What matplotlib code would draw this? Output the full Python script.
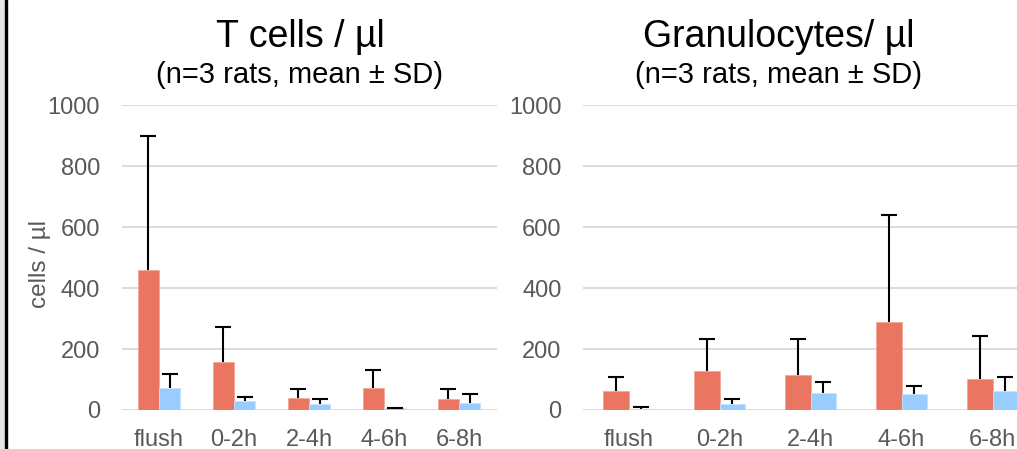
import matplotlib
matplotlib.use("Agg")
import matplotlib.pyplot as plt
import numpy as np
from matplotlib.patches import Rectangle

plt.rcParams["font.family"] = ["Liberation Sans", "DejaVu Sans"]

CATS = ["flush", "0-2h", "2-4h", "4-6h", "6-8h"]

# T cells / µl
T_RED = [460, 156, 40, 72, 35]
T_RED_SD = [440, 117, 28, 58, 33]
T_BLUE = [71, 30, 19, 5, 22]
T_BLUE_SD = [47, 14, 17, 3, 30]

# Granulocytes / µl
G_RED = [63, 129, 115, 290, 103]
G_RED_SD = [45, 104, 118, 349, 140]
G_BLUE = [3, 19, 55, 52, 61]
G_BLUE_SD = [6, 16, 38, 27, 46]

RED, BLUE = "#EA7560", "#99CCFF"
GRID, TICK = "#D9D9D9", "#595959"
W, H = 1017, 449


def upper_err(ax, x, y, sd):
    _, caps, _ = ax.errorbar(x, y, yerr=[np.zeros(len(y)), sd], fmt="none",
                             ecolor="black", elinewidth=1.5, capsize=5.5,
                             capthick=1.5, zorder=4)
    caps[0].set_visible(False)   # only the upper cap


def panel(ax, red, red_sd, blue, blue_sd):
    x = np.arange(len(CATS))
    bw = 0.285
    ax.bar(x - bw / 2, red, bw, color=RED, edgecolor="#F4A898", lw=0.6, zorder=3)
    ax.bar(x + bw / 2, blue, bw, color=BLUE, edgecolor="#C4E2FF", lw=0.6, zorder=3)
    upper_err(ax, x - bw / 2, red, red_sd)
    upper_err(ax, x + bw / 2, blue, blue_sd)
    ax.set_xlim(-0.5, len(CATS) - 0.5)
    ax.set_ylim(0, 1000)
    ax.set_yticks(range(0, 1001, 200))
    ax.set_xticks(x)
    ax.set_xticklabels(CATS)
    ax.yaxis.grid(True, color=GRID, lw=1.3, zorder=0)
    ax.set_axisbelow(True)
    for s in ax.spines.values():
        s.set_visible(False)
    ax.tick_params(length=0, labelsize=17, labelcolor=TICK)
    ax.tick_params(axis="y", pad=15.5)
    ax.tick_params(axis="x", pad=14)


fig = plt.figure(figsize=(W / 100, H / 100), dpi=100)


def px_axes(x0, x1, y_top, y_bot):
    return fig.add_axes([x0 / W, 1 - y_bot / H, (x1 - x0) / W, (y_bot - y_top) / H])


ax1 = px_axes(121.5, 496.5, 105.5, 410)
panel(ax1, T_RED, T_RED_SD, T_BLUE, T_BLUE_SD)

ax2 = px_axes(583, 1038, 105.5, 410)
panel(ax2, G_RED, G_RED_SD, G_BLUE, G_BLUE_SD)

fig.text(40 / W, 1 - 264 / H, "cells / µl", rotation=90, ha="center", va="center",
         fontsize=17.5, color=TICK)

fig.text(300 / W, 1 - 37 / H, "T cells / µl", ha="center", va="center", fontsize=27)
fig.text(300 / W, 1 - 75 / H, "(n=3 rats, mean ± SD)", ha="center", va="center", fontsize=21)
fig.text(778.5 / W, 1 - 37 / H, "Granulocytes/ µl", ha="center", va="center", fontsize=27)
fig.text(778.5 / W, 1 - 75 / H, "(n=3 rats, mean ± SD)", ha="center", va="center", fontsize=21)

# window edge on the left
fig.patches.append(Rectangle((0, 0), 5 / W, 1, transform=fig.transFigure,
                             color="#E6E6E6", zorder=0))
fig.patches.append(Rectangle((5 / W, 0), 2 / W, 1, transform=fig.transFigure,
                             color="black", zorder=0))

fig.savefig("out.png", dpi=100)
